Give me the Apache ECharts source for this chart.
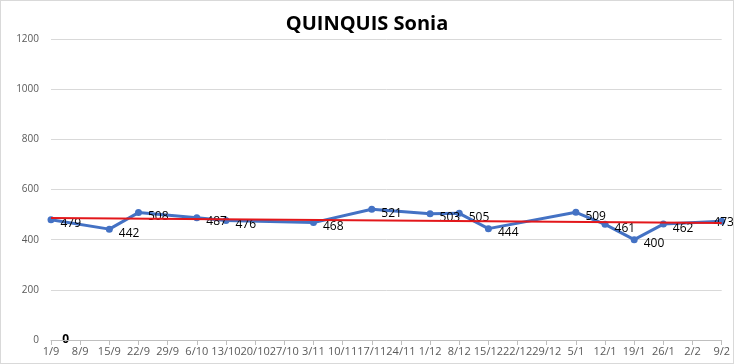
<!DOCTYPE html>
<html><head><meta charset="utf-8">
<script src="https://cdn.jsdelivr.net/npm/echarts@6/dist/echarts.min.js"></script>
<style>html,body{margin:0;padding:0;background:#fff}#c{width:732px;height:362px;border:1px solid #d9d9d9}</style>
</head><body><div id="c"></div>
<script>
var categories = ['1/9','8/9','15/9','22/9','29/9','6/10','13/10','20/10','27/10','3/11','10/11','17/11','24/11','1/12','8/12','15/12','22/12','29/12','5/1','12/1','19/1','26/1','2/2','9/2'];
var values = [479,null,442,508,null,487,476,null,null,468,null,521,null,503,505,444,null,null,509,461,400,462,null,473];
var trendStart = 486, trendEnd = 466;
var yTicks = [0,200,400,600,800,1000,1200];
var zeroLabel = '0';

var trend = categories.map(function(c,i){ return i===0 ? trendStart : (i===categories.length-1 ? trendEnd : null); });
var lineData = values.map(function(v,i){
  if (i===values.length-1 && v!==null) return {value:v,label:{position:'inside',offset:[2,1]}};
  return v;
});

var chart = echarts.init(document.getElementById('c'));
chart.setOption({
  animation:false,
  title:{text:'QUINQUIS Sonia',left:'center',top:8,textStyle:{fontFamily:'Open Sans',fontWeight:'bold',fontSize:20,color:'#000'}},
  grid:{left:50,right:11,top:38,bottom:23},
  xAxis:{type:'category',data:categories,boundaryGap:false,
    axisLine:{lineStyle:{color:'#bfbfbf'}},
    axisTick:{show:true,length:5,lineStyle:{color:'#bfbfbf'}},
    axisLabel:{interval:0,color:'#595959',fontSize:11,fontFamily:'Open Sans',margin:6}},
  yAxis:{type:'value',min:yTicks[0],max:yTicks[yTicks.length-1],interval:200,
    axisLine:{show:false},axisTick:{show:false},
    splitLine:{lineStyle:{color:'#d9d9d9'}},
    axisLabel:{color:'#595959',fontSize:10,fontFamily:'Open Sans',margin:12,formatter:function(v){return String(v);}}},
  series:[
    {type:'line',data:lineData,connectNulls:true,symbol:'circle',symbolSize:7,
     lineStyle:{color:'#4472C4',width:3},itemStyle:{color:'#4472C4'},
     label:{show:true,position:'right',distance:6,offset:[0,4],color:'#000',fontSize:12,fontFamily:'Open Sans'},z:2},
    {type:'line',data:trend,connectNulls:true,symbol:'none',lineStyle:{color:'#E3171B',width:2},z:3}
  ]
});
var p0 = chart.convertToPixel({xAxisIndex:0,yAxisIndex:0},[0,0]);
var p1 = chart.convertToPixel({xAxisIndex:0,yAxisIndex:0},[1,0]);
chart.setOption({graphic:[{type:'text',x:(p0[0]+p1[0])/2,y:p0[1],style:{text:zeroLabel,fontWeight:'bold',fontSize:12,fontFamily:'Open Sans',fill:'#000',textAlign:'center',textVerticalAlign:'middle'}}]});
</script></body></html>
